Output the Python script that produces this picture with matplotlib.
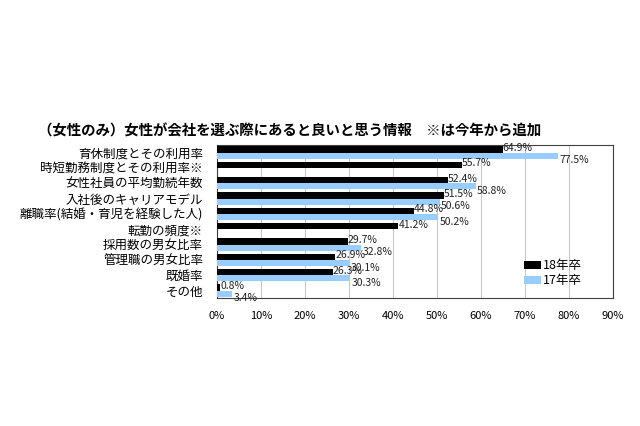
import matplotlib
matplotlib.use("Agg")
import matplotlib.pyplot as plt
import numpy as np

plt.rcParams["font.family"] = ["Noto Sans CJK JP", "DejaVu Sans"]

# Data
categories = ["育休制度とその利用率", "時短勤務制度とその利用率※", "女性社員の平均勤続年数",
              "入社後のキャリアモデル", "離職率(結婚・育児を経験した人)", "転勤の頻度※",
              "採用数の男女比率", "管理職の男女比率", "既婚率", "その他"]
grad18 = [64.9, 55.7, 52.4, 51.5, 44.8, 41.2, 29.7, 26.9, 26.3, 0.8]
grad17 = [77.5, None, 58.8, 50.6, 50.2, None, 32.8, 30.1, 30.3, 3.4]
series_labels = ["18年卒", "17年卒"]
title = "（女性のみ）女性が会社を選ぶ際にあると良いと思う情報　※は今年から追加"

black = "#000000"
blue = "#99CCFF"

fig = plt.figure(figsize=(6.4, 4.26), dpi=100)
ax = fig.add_axes([0.339, 0.300, 0.619, 0.360])

y = np.arange(len(categories))
h = 0.4
v17 = [np.nan if v is None else v for v in grad17]
ax.barh(y - h / 2, grad18, height=h, color=black, label=series_labels[0], zorder=3)
ax.barh(y + h / 2, v17, height=h, color=blue, label=series_labels[1], zorder=3)

for yi, v in zip(y, grad18):
    ax.annotate(f"{v}%", xy=(v, yi - h / 2), xytext=(0, 1), textcoords="offset points",
                ha="left", va="center", fontsize=7.5, color="#222222", zorder=4)
for yi, v in zip(y, grad17):
    if v is None:
        continue
    ax.annotate(f"{v}%", xy=(v, yi + h / 2), xytext=(1, -3.5), textcoords="offset points",
                ha="left", va="center", fontsize=7.5, color="#222222", zorder=4)

ax.set_xlim(0, 90)
ax.set_ylim(len(categories) - 0.5, -0.5)
ax.set_xticks(np.arange(0, 91, 10))
ax.set_xticklabels([f"{t}%" for t in range(0, 91, 10)], fontsize=8)
ax.set_yticks(y)
ax.set_yticklabels(categories, fontsize=9)
ax.tick_params(axis="y", length=0, pad=10)
ax.tick_params(axis="x", length=0, pad=9)
ax.grid(axis="x", color="#c8c8c8", linewidth=0.8, zorder=0)
for s in ax.spines.values():
    s.set_color("#404040")
    s.set_linewidth(0.8)

ax.legend(loc="lower left", bbox_to_anchor=(0.76, 0.03), frameon=False, fontsize=9,
          handlelength=1.3, handleheight=0.6, handletextpad=0.2, labelspacing=0.15,
          borderpad=0)

fig.text(0.06, 0.692, title, fontsize=10.4, fontweight="bold", ha="left", va="center")

fig.savefig("out.png", dpi=100)
